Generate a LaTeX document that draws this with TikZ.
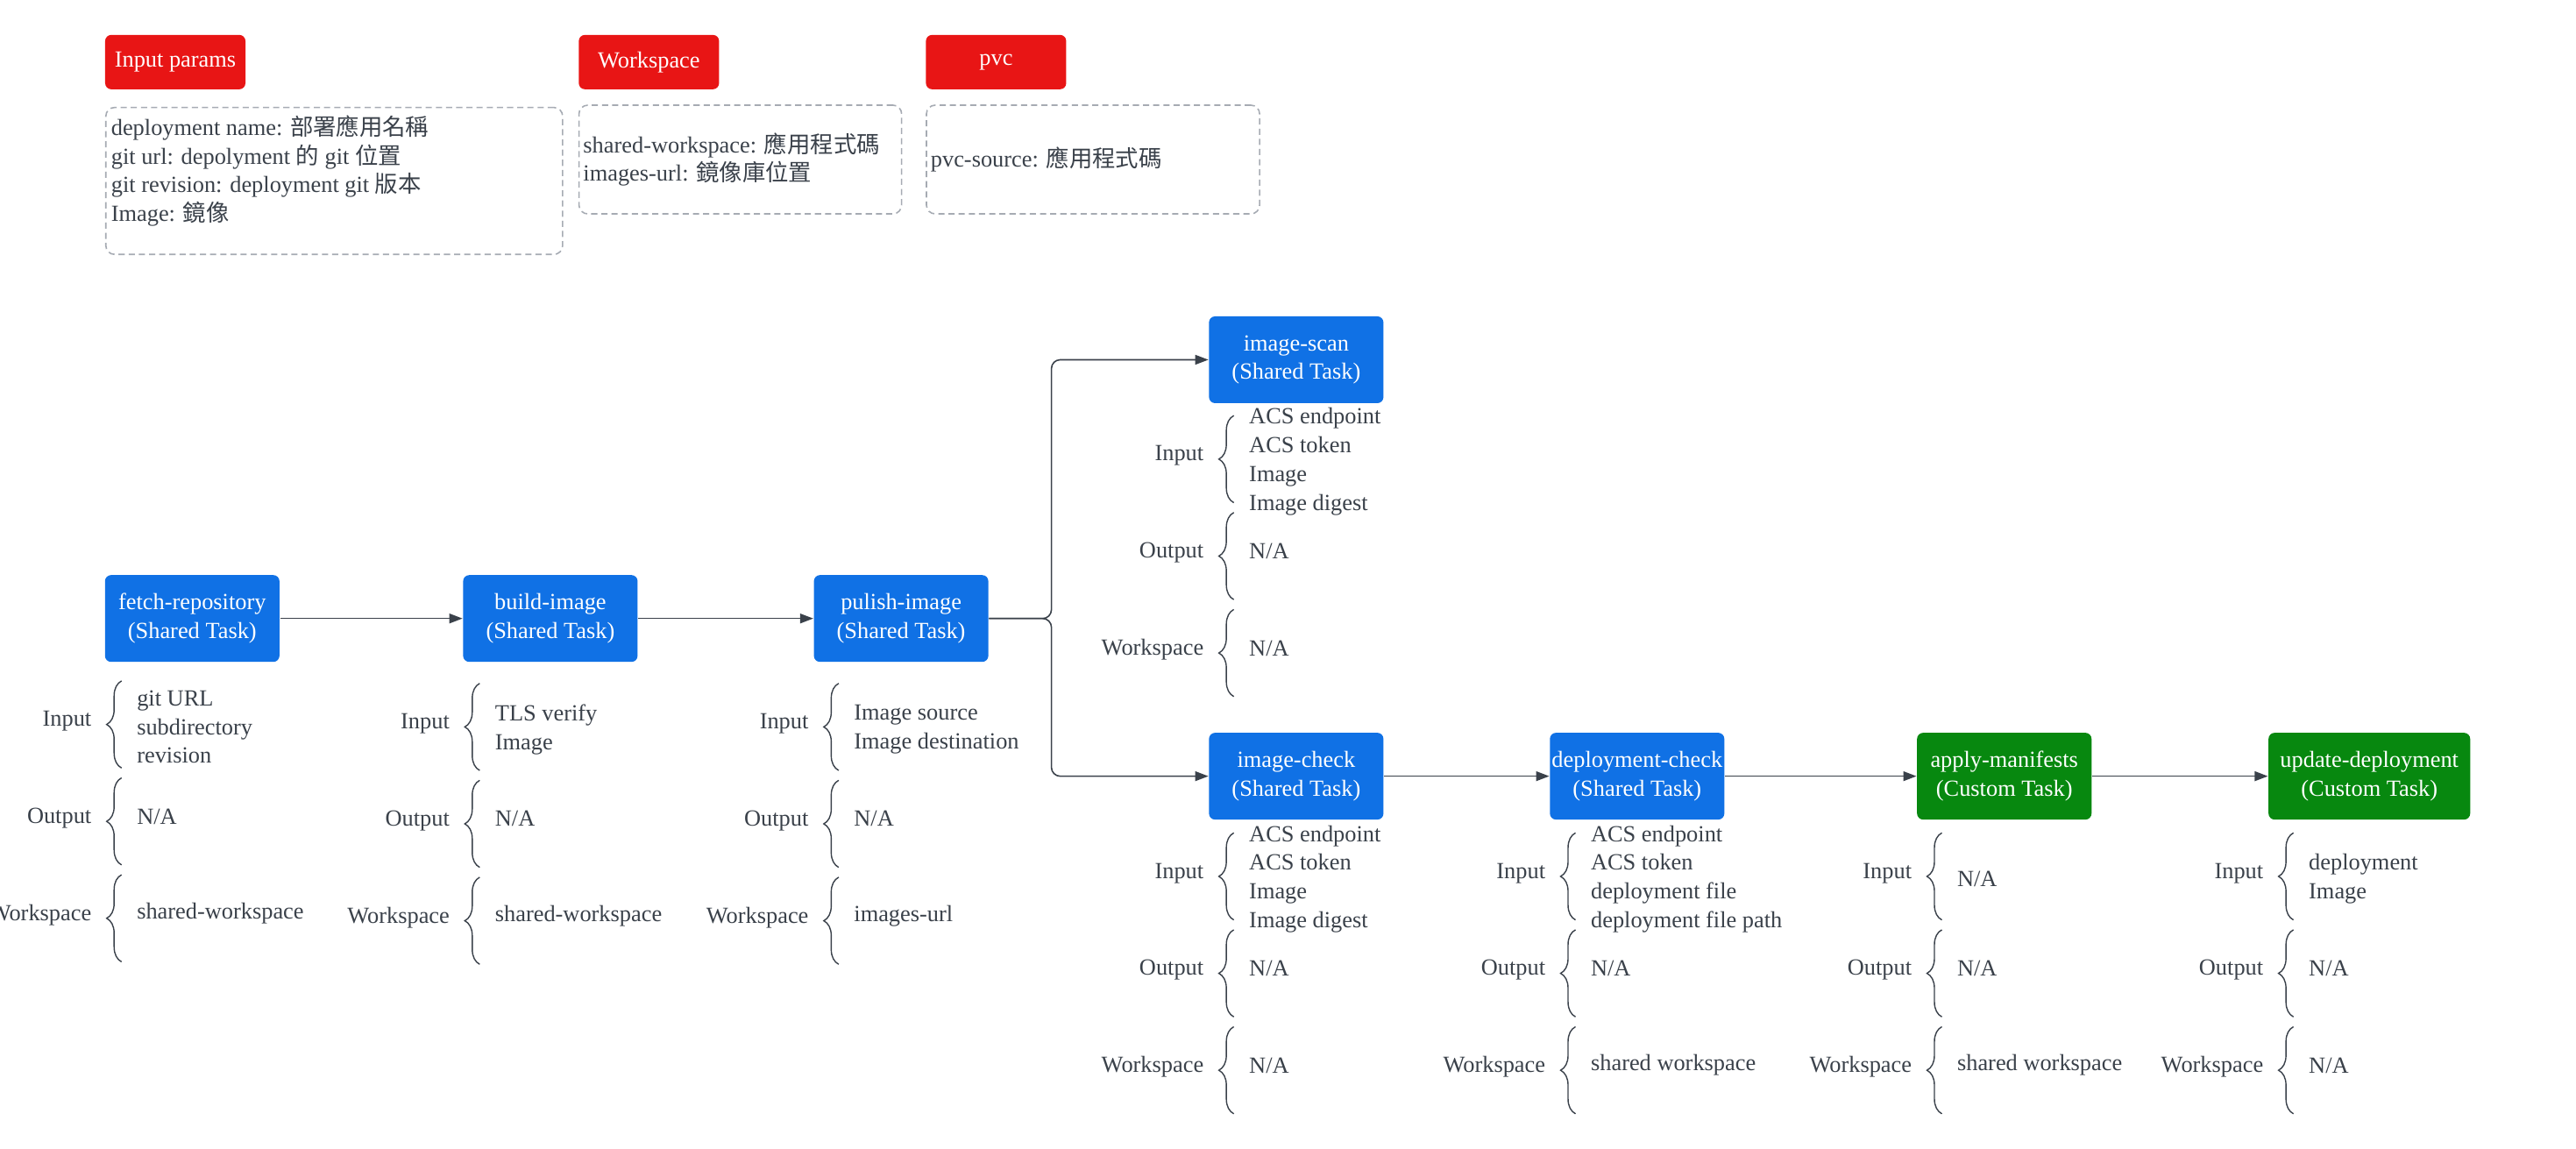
\documentclass[tikz,border=0pt]{standalone}
\usepackage{fontspec}
\setmainfont{Liberation Serif}
\newfontfamily\cjk{Noto Sans CJK TC}
\usetikzlibrary{arrows.meta,decorations.pathreplacing}
\definecolor{taskblue}{HTML}{1071E5}
\definecolor{customgreen}{HTML}{07880F}
\definecolor{tagred}{HTML}{E81515}
\definecolor{ink}{HTML}{3A414A}
\definecolor{dashgray}{HTML}{A6ABB3}
\tikzset{
	every node/.style={font=\fontsize{7.5}{9.3}\selectfont, text=ink},
	task/.style={fill=taskblue, text=white, rounded corners=0.07cm, minimum width=1.99cm, minimum height=0.99cm, align=center, inner sep=0pt},
	custom/.style={task, fill=customgreen},
	tag/.style={fill=tagred, text=white, rounded corners=0.07cm, minimum width=1.6cm, minimum height=0.62cm, inner sep=0pt},
	notebox/.style={draw=dashgray, dash pattern=on 2pt off 1.3pt, rounded corners=0.1cm, line width=0.45pt, inner sep=0pt, anchor=north west},
	flow/.style={draw=ink, line width=0.45pt, -{Triangle[length=0.15cm,width=0.11cm]}},
	param/.style={draw=ink, line width=0.4pt, decorate, decoration={brace, amplitude=0.17cm}},
	plabel/.style={anchor=east, inner sep=0pt},
	pvalue/.style={anchor=west, align=left, inner sep=0pt},
}
\begin{document}
\begin{tikzpicture}[x=0.018744cm, y=-0.018744cm]
	\path[use as bounding box, fill=white] (0,0) rectangle (1568,699);
	\clip (0,0) rectangle (1568,699);

	\node[tag] (tag-params) at (106.7,37.8) {Input params};
	\node[tag] (tag-ws) at (395,37.8) {Workspace};
	\node[tag] (tag-pvc) at (606.3,37.8) {pvc};

	\node[notebox, minimum width=5.21cm, minimum height=1.676cm] (note-params) at (64,65) {};
	\node[pvalue, anchor=north west] (txt-params) at (67.3,70) {deployment name: {\cjk 部署應用名稱}\\git url: depolyment {\cjk 的} git {\cjk 位置}\\git revision: deployment git {\cjk 版本}\\Image: {\cjk 鏡像}};
	\node[notebox, minimum width=3.68cm, minimum height=1.24cm] (note-ws) at (352,63.6) {};
	\node[pvalue] (txt-ws) at ([xshift=0.05cm]note-ws.west) {shared-workspace: {\cjk 應用程式碼}\\images-url: {\cjk 鏡像庫位置}};
	\node[notebox, minimum width=3.8cm, minimum height=1.24cm] (note-pvc) at (563.5,63.6) {};
	\node[pvalue] (txt-pvc) at ([xshift=0.05cm]note-pvc.west) {pvc-source: {\cjk 應用程式碼}};

	\node[task] (fetch) at (117,376.5) {fetch-repository\\(Shared Task)};
	\node[task] (build) at (335,376.5) {build-image\\(Shared Task)};
	\node[task] (pulish) at (548.5,376.5) {pulish-image\\(Shared Task)};
	\node[task] (scan) at (789,219) {image-scan\\(Shared Task)};
	\node[task] (check) at (789,472.5) {image-check\\(Shared Task)};
	\node[task] (dcheck) at (996.5,472.5) {deployment-check\\(Shared Task)};
	\node[custom] (apply) at (1220,472.5) {apply-manifests\\(Custom Task)};
	\node[custom, minimum width=2.3cm] (update) at (1442.2,472.5) {update-deployment\\(Custom Task)};

	\coordinate (fork) at (640,376.5);
	\draw[flow] (fetch) -- (build);
	\draw[flow] (build) -- (pulish);
	\draw[flow, rounded corners=0.1cm] (pulish.east) -- (fork) |- (scan.west);
	\draw[flow, rounded corners=0.1cm] (pulish.east) -- (fork) |- (check.west);
	\draw[flow] (check) -- (dcheck);
	\draw[flow] (dcheck) -- (apply);
	\draw[flow] (apply) -- (update);

	\foreach \n/\xb/\yb/\vin/\vout/\vws in {
		fetch/74/414.5/{git URL\\subdirectory\\revision}/{N/A}/{shared-workspace},
		build/292/416/{TLS verify\\Image}/{N/A}/{shared-workspace},
		pulish/510.5/416/{Image source\\Image destination}/{N/A}/{images-url},
		scan/751/253/{ACS endpoint\\ACS token\\Image\\Image digest}/{N/A}/{N/A},
		check/751/507/{ACS endpoint\\ACS token\\Image\\Image digest}/{N/A}/{N/A},
		dcheck/959/507/{ACS endpoint\\ACS token\\deployment file\\deployment file path}/{N/A}/{shared workspace},
		apply/1182/507/{N/A}/{N/A}/{shared workspace},
		update/1396/507/{deployment\\Image}/{N/A}/{N/A}}{
		\draw[param] (\xb,{\yb+53}) -- (\xb,\yb);
		\draw[param] (\xb,{\yb+112}) -- (\xb,{\yb+59});
		\draw[param] (\xb,{\yb+171}) -- (\xb,{\yb+118});
		\node[plabel] (\n-in) at ({\xb-18},{\yb+24.5}) {Input};
		\node[plabel] (\n-out) at ({\xb-18},{\yb+83.5}) {Output};
		\node[plabel] (\n-ws) at ({\xb-18},{\yb+142.5}) {Workspace};
		\node[pvalue] (\n-in-v) at ({\xb+9},{\yb+28}) {\vin};
		\node[pvalue] (\n-out-v) at ({\xb+9},{\yb+82.5}) {\vout};
		\node[pvalue] (\n-ws-v) at ({\xb+9},{\yb+141.5}) {\vws};
	}
\end{tikzpicture}
\end{document}
